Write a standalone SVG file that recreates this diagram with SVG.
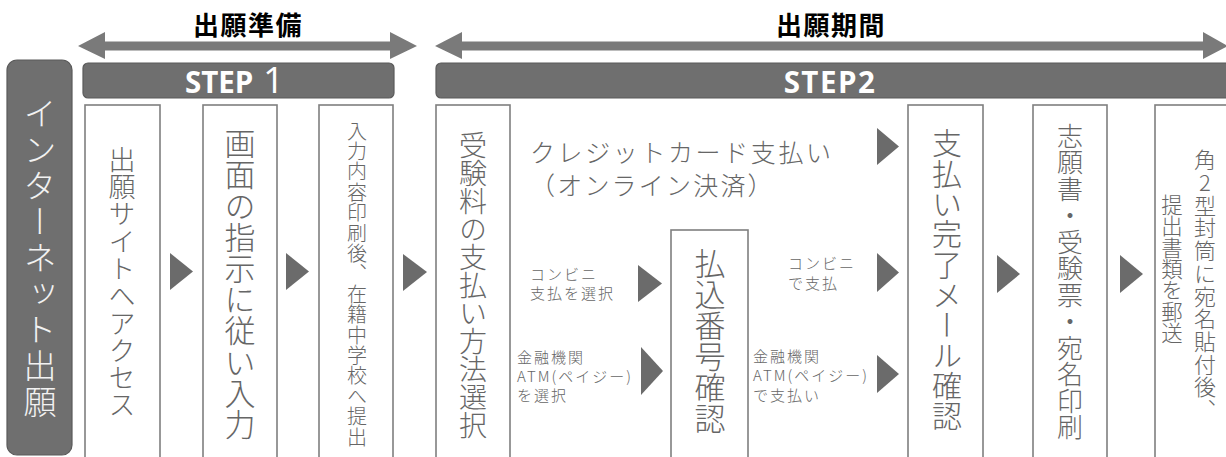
<svg xmlns="http://www.w3.org/2000/svg" width="1226" height="457" viewBox="0 0 1226 457">
<style>
.bar{fill:#6f6f6f;stroke:#5a5a5a;stroke-width:1.2}
.box{fill:#fff;stroke:#7f7f7f;stroke-width:1.6}
.tri{fill:#6b6b6b}
.big{fill:#7a7a7a}
.ttl{font-family:"Noto Sans CJK JP",sans-serif;font-weight:700;font-size:26px;fill:#000;letter-spacing:1.5px}
.step{font-family:"Open Sans","Noto Sans",sans-serif;font-weight:700;font-size:29.5px;fill:#fff}
.v{font-family:"Noto Sans CJK JP Light","Noto Sans CJK JP",sans-serif;font-weight:300;fill:#666;writing-mode:vertical-rl;text-orientation:upright}
.h{font-family:"Noto Sans CJK JP Light","Noto Sans CJK JP",sans-serif;font-weight:300;fill:#666}
.s{font-size:15px;letter-spacing:2px}
</style>
<g id="connectors">
<polygon class="big" points="78,46 105,32 105,41.5 390,41.5 390,32 417,46 390,59 390,50.5 105,50.5 105,59"/>
<polygon class="big" points="435,46 462,32 462,41.5 1203,41.5 1203,32 1228,46 1203,59 1203,50.5 462,50.5 462,59"/>
<polygon class="tri" points="170,253 193,271.5 170,290"/>
<polygon class="tri" points="286,253 309,271.5 286,290"/>
<polygon class="tri" points="403,254 427,272 403,291"/>
<polygon class="tri" points="877,128 899,146.5 877,165"/>
<polygon class="tri" points="638,265 662,283.5 638,302"/>
<polygon class="tri" points="641,347 663,371 641,395"/>
<polygon class="tri" points="877,253 899,272.5 877,292"/>
<polygon class="tri" points="877,355 899,374 877,393"/>
<polygon class="tri" points="997,255 1020,274 997,293"/>
<polygon class="tri" points="1120,255 1143,274 1120,293"/>
</g>
<g id="titles">
<text class="ttl" x="248" y="35" text-anchor="middle">出願準備</text>
<text class="ttl" x="831" y="35" text-anchor="middle">出願期間</text>
</g>
<g id="step1">
<rect class="bar" x="83" y="63" width="311" height="35" rx="5"/>
<text class="step" x="185" y="93">STEP <tspan x="263" font-weight="400" font-size="37">1</tspan></text>
</g>
<g id="step2">
<rect class="bar" x="436" y="63" width="800" height="35" rx="5"/>
<text class="step" x="830" y="93" text-anchor="middle" letter-spacing="1.5">STEP2</text>
</g>
<g id="internet">
<rect class="bar" x="7" y="60" width="65" height="395" rx="10"/>
<text class="v" x="40" y="97" font-size="33" letter-spacing="3" style="fill:#f2f2f2">インターネット出願</text>
</g>
<g id="n1">
<rect class="box" x="85" y="105" width="75" height="360"/>
<text class="v" x="122" y="146" font-size="27" letter-spacing="0.3">出願サイトへアクセス</text>
</g>
<g id="n2">
<rect class="box" x="203" y="105" width="74" height="360"/>
<text class="v" x="240" y="128" font-size="31" letter-spacing="0.2">画面の指示に従い入力</text>
</g>
<g id="n3">
<rect class="box" x="319" y="105" width="74" height="360"/>
<text class="v" x="357" y="121" font-size="20" letter-spacing="0.4">入力内容印刷後、在籍中学校へ提出</text>
</g>
<g id="n4">
<rect class="box" x="436" y="105" width="74" height="360"/>
<text class="v" x="473" y="131" font-size="28">受験料の支払い方法選択</text>
</g>
<g id="credit">
<text class="h" x="530" y="162" font-size="25" letter-spacing="2.6">クレジットカード支払い</text>
<text class="h" x="530" y="195" font-size="25" letter-spacing="2.2">（オンライン決済）</text>
</g>
<g id="conv-select">
<text class="h s" x="530" y="280">コンビニ</text>
<text class="h s" x="530" y="299" letter-spacing="2.5">支払を選択</text>
</g>
<g id="atm-select">
<text class="h s" x="517" y="363">金融機関</text>
<text class="h s" x="517" y="382" letter-spacing="1.5">ATM(ペイジー)</text>
<text class="h s" x="517" y="401">を選択</text>
</g>
<g id="n5">
<rect class="box" x="671" y="230" width="77" height="240"/>
<text class="v" x="710" y="248" font-size="31">払込番号確認</text>
</g>
<g id="conv-pay">
<text class="h s" x="788" y="269">コンビニ</text>
<text class="h s" x="788" y="289">で支払</text>
</g>
<g id="atm-pay">
<text class="h s" x="753" y="362">金融機関</text>
<text class="h s" x="753" y="381" letter-spacing="1.5">ATM(ペイジー)</text>
<text class="h s" x="753" y="401">で支払い</text>
</g>
<g id="n6">
<rect class="box" x="908" y="105" width="75" height="360"/>
<text class="v" x="947" y="128" font-size="30" letter-spacing="0.3">支払い完了メール確認</text>
</g>
<g id="n7">
<rect class="box" x="1033" y="105" width="74" height="360"/>
<text class="v" x="1070" y="123" font-size="26" letter-spacing="0.5">志願書・受験票・宛名印刷</text>
</g>
<g id="n8">
<rect class="box" x="1155" y="105" width="80" height="360"/>
<text class="v" x="1205" y="149" font-size="22" letter-spacing="0.7">角2型封筒に宛名貼付後、</text>
<text class="v" x="1172" y="194" font-size="21.4">提出書類を郵送</text>
</g>
</svg>
